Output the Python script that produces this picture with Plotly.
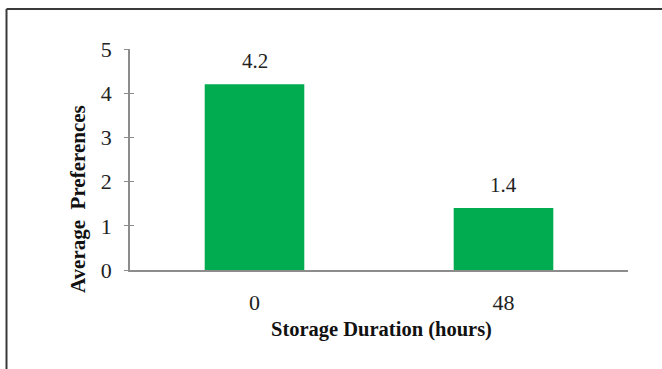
import plotly.graph_objects as go

# Average preference score by storage duration
durations = ["0", "48"]
preferences = [4.2, 1.4]
y_ticks = [0, 1, 2, 3, 4, 5]

positions = list(range(len(durations)))

W, H = 662, 369
L, R, T, B = 130, 34, 49, 99  # margins (px)
plot_w = W - L - R
plot_h = H - T - B

def px_x(px):
    return (px - L) / plot_w

def px_y(py):
    return (H - B - py) / plot_h

serif = "Liberation Serif, Times New Roman, serif"
axis_grey = "#8c8c8c"

fig = go.Figure()
fig.add_trace(go.Bar(
    x=positions, y=preferences,
    marker=dict(color="#00AC4F", line=dict(width=0)),
    width=0.4, hoverinfo="skip",
))
# invisible trace so the secondary (inside-tick) y axis is drawn
fig.add_trace(go.Scatter(x=positions, y=preferences, yaxis="y2",
                         mode="markers", marker=dict(opacity=0),
                         hoverinfo="skip", showlegend=False))

for p, v in zip(positions, preferences):
    fig.add_annotation(x=p, y=v, text=f"{v:.1f}", showarrow=False,
                       yanchor="bottom", yshift=9,
                       font=dict(family=serif, size=21, color="#222"))

fig.add_annotation(xref="paper", yref="paper", x=px_x(381), y=px_y(329),
                   text="<b>Storage Duration (hours)</b>", showarrow=False,
                   xanchor="center", yanchor="middle",
                   font=dict(family=serif, size=20.5, color="#111"))
fig.add_annotation(xref="paper", yref="paper", x=px_x(78), y=px_y(199),
                   text="<b>Average  Preferences</b>", showarrow=False,
                   textangle=-90, xanchor="center", yanchor="middle",
                   font=dict(family=serif, size=21, color="#111"))

# outer frame (top and left edges)
frame = dict(color="#3a3a3a", width=2)
fig.add_shape(type="line", xref="paper", yref="paper",
              x0=px_x(6.5), x1=px_x(6.5), y0=px_y(380), y1=px_y(9),
              line=frame)
fig.add_shape(type="line", xref="paper", yref="paper",
              x0=px_x(6.5), x1=px_x(670), y0=px_y(9), y1=px_y(9),
              line=frame)

fig.update_layout(
    width=W, height=H,
    margin=dict(l=L, r=R, t=T, b=B),
    paper_bgcolor="white", plot_bgcolor="white",
    showlegend=False,
    xaxis=dict(
        range=[-0.5, len(durations) - 0.5],
        tickvals=positions, ticktext=durations,
        showline=True, linecolor=axis_grey, linewidth=1.5,
        ticks="", showgrid=False, zeroline=False,
        tickfont=dict(family=serif, size=22, color="#222"),
        ticklabelstandoff=12,
    ),
    yaxis=dict(
        range=[0, 5], tickvals=y_ticks, showline=True, linecolor=axis_grey,
        linewidth=1.5, ticks="outside", ticklen=4, tickcolor=axis_grey,
        showgrid=False, zeroline=False,
        tickfont=dict(family=serif, size=22, color="#222"),
        ticklabelstandoff=8,
    ),
    yaxis2=dict(
        range=[0, 5], tickvals=y_ticks, overlaying="y", side="left",
        anchor="x",
        ticks="inside", ticklen=4, tickcolor=axis_grey, showline=False,
        showticklabels=False, showgrid=False, zeroline=False,
    ),
)

fig.write_html("out.html")
